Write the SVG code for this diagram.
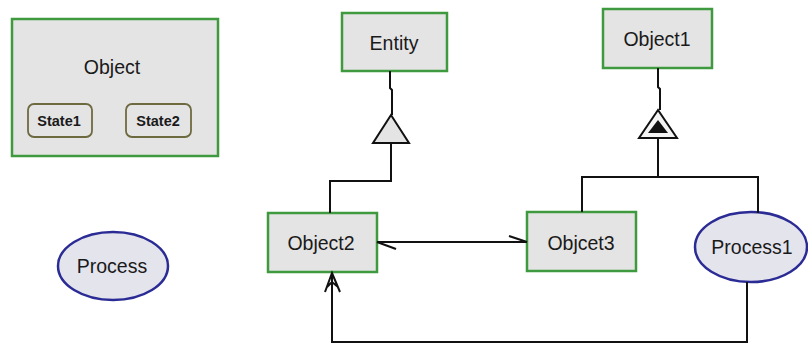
<svg xmlns="http://www.w3.org/2000/svg" width="808" height="345" viewBox="0 0 808 345">
  <style>
    .obj { fill: #e4e4e4; stroke: #3f9a3f; stroke-width: 2.5; }
    .state { fill: #e4e4e4; stroke: #6e6a40; stroke-width: 1.8; }
    .proc { fill: #e4e4ec; stroke: #2b2b96; stroke-width: 2.5; }
    .lbl { font-family: "Liberation Sans", Arial, sans-serif; font-size: 19.5px; fill: #1a1a1a; text-anchor: middle; dominant-baseline: central; }
    .slbl { font-family: "Liberation Sans", Arial, sans-serif; font-size: 14.5px; font-weight: bold; fill: #1a1a1a; text-anchor: middle; dominant-baseline: central; }
    .wire { fill: none; stroke: #111; stroke-width: 2; }
  </style>
  <rect width="808" height="345" fill="#ffffff"/>

  <g id="object">
    <rect class="obj" x="12" y="19" width="206" height="137"/>
    <text class="lbl" x="112" y="67">Object</text>
    <g id="state1">
      <rect class="state" x="28" y="104" width="64" height="33" rx="6"/>
      <text class="slbl" x="59" y="121">State1</text>
    </g>
    <g id="state2">
      <rect class="state" x="126" y="104" width="65" height="33" rx="6"/>
      <text class="slbl" x="158" y="121">State2</text>
    </g>
  </g>

  <g id="process">
    <ellipse class="proc" cx="113" cy="266" rx="55" ry="34"/>
    <text class="lbl" x="112" y="266">Process</text>
  </g>

  <g id="entity">
    <rect class="obj" x="342" y="13" width="105" height="58"/>
    <text class="lbl" x="394" y="43">Entity</text>
  </g>

  <g id="object1">
    <rect class="obj" x="603" y="9" width="109" height="59"/>
    <text class="lbl" x="657" y="39">Object1</text>
  </g>

  <g id="object2">
    <rect class="obj" x="268" y="213" width="109" height="59"/>
    <text class="lbl" x="321" y="243">Object2</text>
  </g>

  <g id="objcet3">
    <rect class="obj" x="527" y="212" width="109" height="59"/>
    <text class="lbl" x="581" y="243">Objcet3</text>
  </g>

  <g id="process1">
    <ellipse class="proc" cx="751" cy="247" rx="56" ry="35"/>
    <text class="lbl" x="752" y="247">Process1</text>
  </g>

  <g id="connectors">
    <!-- generalisation to Entity -->
    <path class="wire" d="M390 71 V88 L392 90 V115"/>
    <polygon points="391,115 373,143 409,143" fill="#e4e4e4" stroke="#111" stroke-width="2"/>
    <path class="wire" d="M391 143 V181 H330 V213"/>

    <!-- generalisation to Object1 with filled inner head -->
    <path class="wire" d="M658 68 V87 L660 89 V110"/>
    <polygon points="658,110 639,138 677,138" fill="#f4f4f4" stroke="#111" stroke-width="2"/>
    <polygon points="658,120 648,133 668,133" fill="#111"/>
    <path class="wire" d="M658 138 V177"/>
    <path class="wire" d="M582 212 V177 H758 V213"/>

    <!-- Object2 <-> Objcet3 -->
    <path class="wire" d="M377 242 H527"/>
    <path class="wire" d="M377 242 L396 249"/>
    <path class="wire" d="M527 242 L509 236"/>

    <!-- Process1 -> Object2 -->
    <path class="wire" d="M747 282 V342 H332 V273"/>
    <path class="wire" d="M325 292 L332 273 L340 292 M327 287 L332 282 L338 287"/>
  </g>
</svg>
